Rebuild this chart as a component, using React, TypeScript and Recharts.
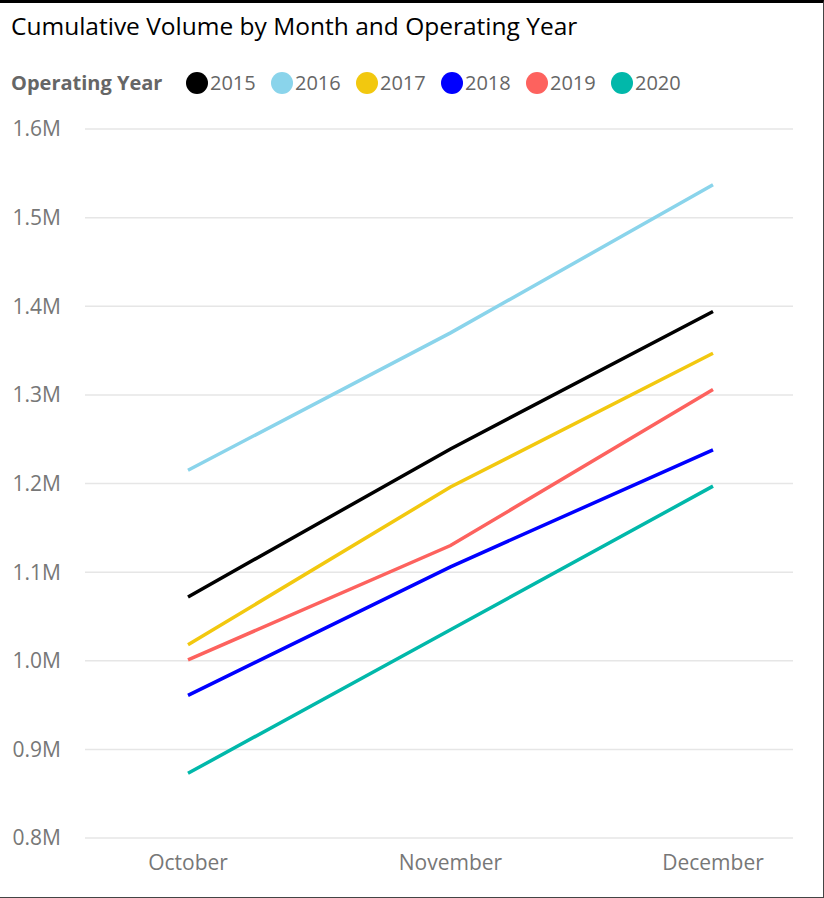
import React from 'react';
import { LineChart, Line, XAxis, YAxis, CartesianGrid } from 'recharts';

const months = ['October', 'November', 'December'];
const years = ['2015', '2016', '2017', '2018', '2019', '2020'];
const colors = ['#000000', '#8AD4EB', '#F2C80F', '#0000FF', '#FD625E', '#01B8AA'];

const vol2015 = [1072000, 1239000, 1394000];
const vol2016 = [1215000, 1370000, 1537000];
const vol2017 = [1018000, 1196000, 1347000];
const vol2018 = [961000, 1106000, 1238000];
const vol2019 = [1001000, 1130000, 1306000];
const vol2020 = [873000, 1035000, 1197000];

const yTicks = [800000, 900000, 1000000, 1100000, 1200000, 1300000, 1400000, 1500000, 1600000];

const seriesValues = [vol2015, vol2016, vol2017, vol2018, vol2019, vol2020];

const data = months.map((m, i) => {
  const row: Record<string, string | number> = { month: m };
  years.forEach((y, j) => {
    row[y] = seriesValues[j][i];
  });
  return row;
});

const FONT = '"Open Sans", "Noto Sans", sans-serif';

const fmt = (v: number) => `${(v / 1000000).toFixed(1)}M`;

const LegendRow = () => (
  <div
    style={{
      position: 'absolute',
      left: 11,
      top: 66,
      display: 'flex',
      alignItems: 'center',
      fontFamily: FONT,
      fontSize: 20,
      color: '#666',
      whiteSpace: 'nowrap',
    }}
  >
    <span style={{ fontWeight: 700, width: 175 }}>Operating Year</span>
    {years.map((y, i) => (
      <span key={y} style={{ display: 'flex', alignItems: 'center', width: 85 }}>
        <span
          style={{
            display: 'inline-block',
            width: 22,
            height: 22,
            borderRadius: '50%',
            background: colors[i],
            marginRight: 2,
          }}
        />
        {y}
      </span>
    ))}
  </div>
);

export default function App() {
  return (
    <div
      style={{
        position: 'absolute',
        left: 0,
        top: 0,
        width: 824,
        height: 898,
        boxSizing: 'border-box',
        borderTop: '3px solid #000',
        borderRight: '1px solid #444',
        borderBottom: '1px solid #444',
        background: '#fff',
      }}
    >
      <div style={{ position: 'absolute', left: 0, top: -3 }}>
        <LineChart width={824} height={898} data={data} margin={{ top: 129, right: 31, bottom: 30, left: 0 }}>
          <CartesianGrid vertical={false} stroke="#e6e6e6" strokeWidth={1.5} />
          <XAxis
            dataKey="month"
            axisLine={false}
            tickLine={false}
            padding={{ left: 103, right: 80 }}
            tick={{ fill: '#777', fontSize: 21, fontFamily: FONT }}
            tickMargin={11}
            height={30}
          />
          <YAxis
            domain={[800000, 1600000]}
            ticks={yTicks}
            tickFormatter={fmt}
            axisLine={false}
            tickLine={false}
            width={85}
            tickMargin={18}
            tick={{ fill: '#777', fontSize: 21, fontFamily: FONT }}
          />
          {years.map((y, i) => (
            <Line
              key={y}
              dataKey={y}
              stroke={colors[i]}
              strokeWidth={3.5}
              dot={false}
              activeDot={false}
              isAnimationActive={false}
            />
          ))}
        </LineChart>
      </div>
      <div
        style={{
          position: 'absolute',
          left: 11,
          top: 6,
          fontFamily: FONT,
          fontSize: 24.5,
          color: '#000',
          whiteSpace: 'nowrap',
        }}
      >
        Cumulative Volume by Month and Operating Year
      </div>
      <LegendRow />
    </div>
  );
}
